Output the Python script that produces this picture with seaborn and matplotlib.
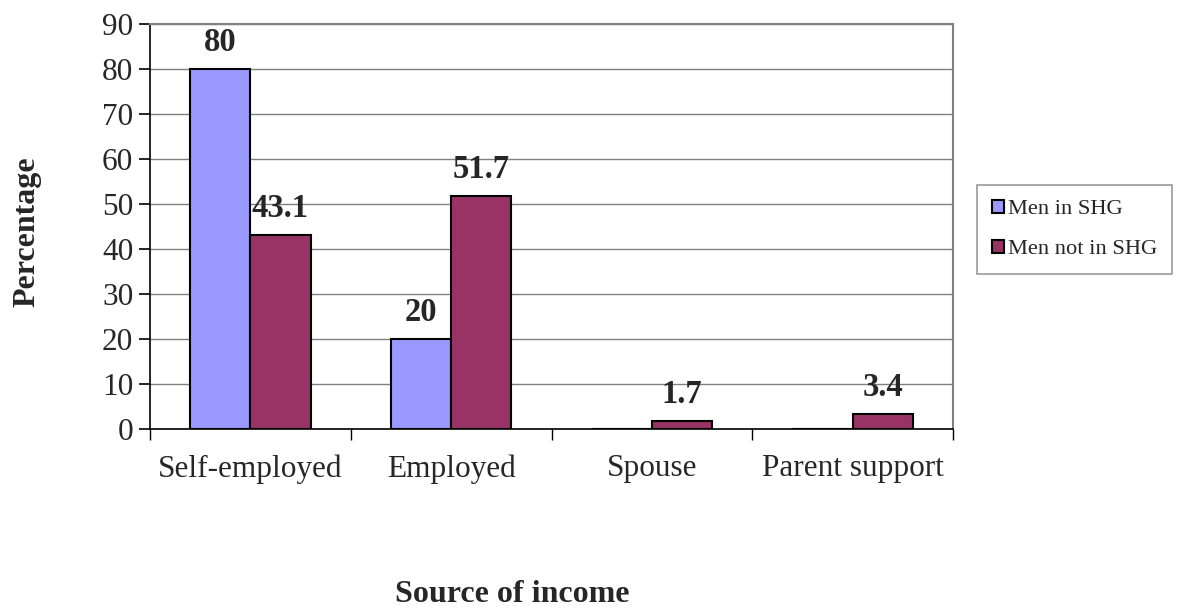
import numpy as np
import pandas as pd
import matplotlib
matplotlib.use("Agg")
import matplotlib.pyplot as plt
import seaborn as sns

# data
categories = ["Self-employed", "Employed", "Spouse", "Parent support"]
men_in_shg = [80, 20, 0, 0]
men_not_in_shg = [43.1, 51.7, 1.7, 3.4]
series_names = ["Men in SHG", "Men not in SHG"]
colors = ["#9999FF", "#993366"]

df = pd.DataFrame({
    "Source": categories * 2,
    "Series": [series_names[0]] * 4 + [series_names[1]] * 4,
    "Value": men_in_shg + men_not_in_shg,
})

sns.set_style("white")
plt.rcParams["font.family"] = ["Liberation Serif", "DejaVu Serif"]

fig = plt.figure(figsize=(11.77, 6.09), dpi=100)
ax = fig.add_axes([150 / 1177, 1 - 429 / 609, 803 / 1177, 405 / 609])

sns.barplot(data=df, x="Source", y="Value", hue="Series", palette=colors,
            saturation=1, width=0.6, edgecolor="black", linewidth=1.5,
            ax=ax, legend=True)

ax.set_ylim(0, 90)
ax.set_xlim(-0.5, 3.5)
ax.set_yticks(range(0, 91, 10))
ax.yaxis.grid(True, color="#808080", linewidth=1)
ax.set_axisbelow(True)

for sp in ["left", "bottom"]:
    ax.spines[sp].set_color("black")
    ax.spines[sp].set_linewidth(1.2)
ax.spines["top"].set_color("#808080")
ax.spines["top"].set_linewidth(1.5)
ax.spines["right"].set_color("#808080")
ax.spines["right"].set_linewidth(1.5)

ax.tick_params(axis="y", direction="out", length=8, width=1.2, color="black",
               labelsize=22.5, pad=4, left=True)
ax.tick_params(axis="x", which="major", length=0, labelsize=22.5, pad=18)
ax.set_xticks(np.arange(-0.5, 4, 1), minor=True)
ax.tick_params(axis="x", which="minor", direction="out", length=8, width=1,
               color="black", bottom=True)

# data labels, skipping the zero bars
for cont, vals in zip(ax.containers, [men_in_shg, men_not_in_shg]):
    labels = ["" if v == 0 else f"{v:g}" for v in vals]
    ax.bar_label(cont, labels=labels, padding=8, fontsize=23.5, fontweight="bold")

ax.set_xlabel("Source of income", fontsize=23, fontweight="bold")
ax.set_ylabel("Percentage", fontsize=23, fontweight="bold")
ax.xaxis.set_label_coords(512 / 1177, 1 - 595 / 609, transform=fig.transFigure)
ax.xaxis.label.set_va("center")
ax.yaxis.set_label_coords(27 / 1177, 1 - 232 / 609, transform=fig.transFigure)
ax.yaxis.label.set_va("center")

leg = ax.legend(loc="upper left", bbox_to_anchor=(977 / 1177, 1 - 185 / 609),
                bbox_transform=fig.transFigure, fontsize=16.2,
                frameon=True, fancybox=False, edgecolor="#808080",
                handlelength=0.55, handleheight=0.55, handletextpad=0.2,
                labelspacing=0.9, borderpad=0.65, borderaxespad=0)
leg.get_frame().set_linewidth(1.2)
for h in leg.legend_handles:
    h.set_edgecolor("black")
    h.set_linewidth(1.5)

fig.savefig("out.png", dpi=100)
